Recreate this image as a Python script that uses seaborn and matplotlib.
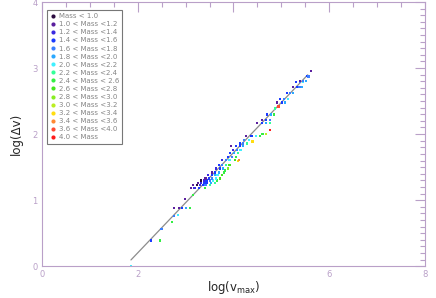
import numpy as np
import pandas as pd
import matplotlib
matplotlib.use("Agg")
import matplotlib.pyplot as plt
import seaborn as sns
from matplotlib.lines import Line2D
from matplotlib.ticker import MultipleLocator, FixedLocator

# mass bins (legend order) and their colours
mass_labels = [
    "Mass < 1.0", "1.0 < Mass <1.2", "1.2 < Mass <1.4", "1.4 < Mass <1.6",
    "1.6 < Mass <1.8", "1.8 < Mass <2.0", "2.0 < Mass <2.2", "2.2 < Mass <2.4",
    "2.4 < Mass < 2.6", "2.6 < Mass <2.8", "2.8 < Mass <3.0", "3.0 < Mass <3.2",
    "3.2 < Mass <3.4", "3.4 < Mass <3.6", "3.6 < Mass <4.0", "4.0 < Mass",
]
mass_colors = [
    "#2b0b3f", "#5a1f9e", "#3a2ae0", "#1a3aff", "#3a7fff", "#2aa8ff",
    "#3ff0ff", "#33ff99", "#33ee44", "#44e61e", "#88ee22", "#bbee22",
    "#ffdd11", "#ff8833", "#ff4a33", "#ff1a1a",
]

# stars: log(numax), log(dnu), mass bin index
log_numax = [
    1.86, 2.28, 2.46, 2.50, 2.72, 2.76, 2.84,
    2.76, 2.86, 2.92, 3.01, 3.09, 2.99, 3.15,
    3.11, 3.19, 3.28, 3.40,
    3.15, 3.24, 3.30, 3.36, 3.42, 3.51,
    3.26, 3.32, 3.38, 3.44, 3.53, 3.61,
    3.32, 3.38, 3.44, 3.51, 3.57, 3.65,
    3.42, 3.49, 3.55, 3.63, 3.72,
    3.47, 3.55, 3.61, 3.67, 3.76,
    3.55, 3.61, 3.70, 3.80,
    3.63, 3.72, 3.78, 3.88, 3.82,
    3.70, 3.76, 3.84, 3.92, 4.09,
    3.76, 3.84, 3.92, 4.03,
    3.88, 3.97, 4.05,
    3.93, 4.01, 4.09,
    3.99, 4.07, 4.15,
    3.95, 4.05, 4.13, 4.20,
    4.13, 4.20, 4.28,
    4.22, 4.32, 4.12,
    4.26, 4.38, 4.47, 4.55,
    4.61, 4.68, 4.76,
    4.49, 4.59, 4.68, 4.76,
    4.59, 4.68, 4.76,
    4.70, 4.78, 4.85,
    4.87, 4.94, 4.40,
    4.91, 5.01, 5.07,
    4.97, 5.05, 5.14,
    5.12, 5.18, 5.24,
    5.24, 5.32, 5.38, 5.43,
    5.30, 5.39, 5.45,
    5.39, 5.45, 5.51,
    5.62, 5.53, 5.57,
]
log_dnu = [
    0.00, 0.39, 0.39, 0.56, 0.67, 0.76, 0.77,
    0.88, 0.88, 0.88, 0.88, 0.88, 1.02, 1.08,
    1.18, 1.18, 1.18, 1.18,
    1.23, 1.23, 1.23, 1.23, 1.23, 1.23,
    1.26, 1.26, 1.26, 1.26, 1.26, 1.26,
    1.30, 1.30, 1.30, 1.30, 1.30, 1.30,
    1.33, 1.33, 1.33, 1.33, 1.33,
    1.38, 1.38, 1.38, 1.38, 1.38,
    1.42, 1.42, 1.42, 1.42,
    1.48, 1.48, 1.48, 1.48, 1.45,
    1.53, 1.53, 1.53, 1.53, 1.59,
    1.61, 1.61, 1.61, 1.61,
    1.65, 1.65, 1.65,
    1.71, 1.71, 1.71,
    1.76, 1.76, 1.76,
    1.82, 1.82, 1.82, 1.82,
    1.86, 1.86, 1.86,
    1.91, 1.91, 1.61,
    1.97, 1.97, 1.97, 1.97,
    2.00, 2.00, 2.06,
    2.17, 2.17, 2.17, 2.17,
    2.21, 2.21, 2.21,
    2.30, 2.30, 2.30,
    2.39, 2.42, 1.89,
    2.48, 2.48, 2.48,
    2.53, 2.53, 2.53,
    2.62, 2.62, 2.62,
    2.71, 2.71, 2.71, 2.71,
    2.79, 2.79, 2.79,
    2.80, 2.80, 2.80,
    2.96, 2.88, 2.87,
]
mass_bin = [
    6, 3, 8, 4, 8, 4, 6,
    1, 1, 3, 5, 8, 1, 8,
    1, 2, 3, 8,
    1, 0, 2, 3, 4, 7,
    1, 2, 3, 3, 5, 7,
    0, 2, 3, 4, 6, 8,
    1, 3, 4, 6, 9,
    2, 3, 5, 6, 9,
    1, 3, 5, 8,
    2, 3, 5, 10, 8,
    3, 4, 7, 9, 12,
    2, 4, 6, 9,
    3, 4, 8,
    3, 5, 7,
    2, 4, 6,
    1, 3, 3, 5,
    3, 4, 7,
    4, 6, 13,
    1, 3, 6, 8,
    8, 11, 15,
    1, 3, 5, 7,
    1, 3, 4,
    3, 5, 8,
    7, 14, 12,
    1, 3, 5,
    3, 4, 6,
    3, 4, 5,
    1, 3, 4, 5,
    3, 4, 6,
    1, 4, 5,
    1, 3, 4,
]

# scaling relation drawn through the points
fit_slope = 0.76
fit_intercept = -1.32
fit_range = [1.86, 5.55]

df = pd.DataFrame({"numax": log_numax, "dnu": log_dnu,
                   "mass": [mass_labels[i] for i in mass_bin]})

sns.set_style("white")
plt.rcParams["font.family"] = ["DejaVu Sans"]

axis_col = "#b9a0c8"
fig = plt.figure(figsize=(4.36, 2.98), dpi=100)
ax = fig.add_axes([0.096, 0.107, 0.879, 0.886])

fit_x = np.array(fit_range)
ax.plot(fit_x, fit_slope * fit_x + fit_intercept, color="#8c8c8c", lw=0.9, zorder=1)

sns.scatterplot(data=df, x="numax", y="dnu", hue="mass", hue_order=mass_labels,
                palette=dict(zip(mass_labels, mass_colors)), marker="s", s=3,
                linewidth=0, legend=False, ax=ax, zorder=2)

ax.set_xlim(0, 8)
ax.set_ylim(0, 4)
ax.xaxis.set_major_locator(FixedLocator([0, 2, 4, 6, 8]))
ax.set_xticklabels(["0", "2", "", "6", "8"])
ax.xaxis.set_minor_locator(MultipleLocator(0.5))
ax.yaxis.set_major_locator(MultipleLocator(1))
ax.yaxis.set_minor_locator(MultipleLocator(0.1))
ax.tick_params(which="both", direction="in", top=True, right=True,
               color=axis_col, labelcolor=axis_col, labelsize=6, width=0.8)
ax.tick_params(which="major", length=7, pad=3)
ax.tick_params(which="minor", length=3.5)
for sp in ax.spines.values():
    sp.set_color(axis_col)
    sp.set_linewidth(0.8)

ax.set_xlabel(r"log(v$_{\rm max}$)", fontsize=8.5, labelpad=0)
ax.set_ylabel("log(Δv)", fontsize=8.5, labelpad=7)

handles = [Line2D([], [], ls="", marker="o", ms=3, mec="none", mfc=c)
           for c in mass_colors]
leg = ax.legend(handles, mass_labels, loc="upper left", fontsize=5.0,
                frameon=True, fancybox=False, handlelength=0.8,
                handletextpad=0.4, labelspacing=0.3, borderpad=0.45,
                bbox_to_anchor=(0.005, 0.983), labelcolor="#858585")
leg.get_frame().set_edgecolor("#555555")
leg.get_frame().set_linewidth(0.8)

fig.savefig("out.png", dpi=100)
